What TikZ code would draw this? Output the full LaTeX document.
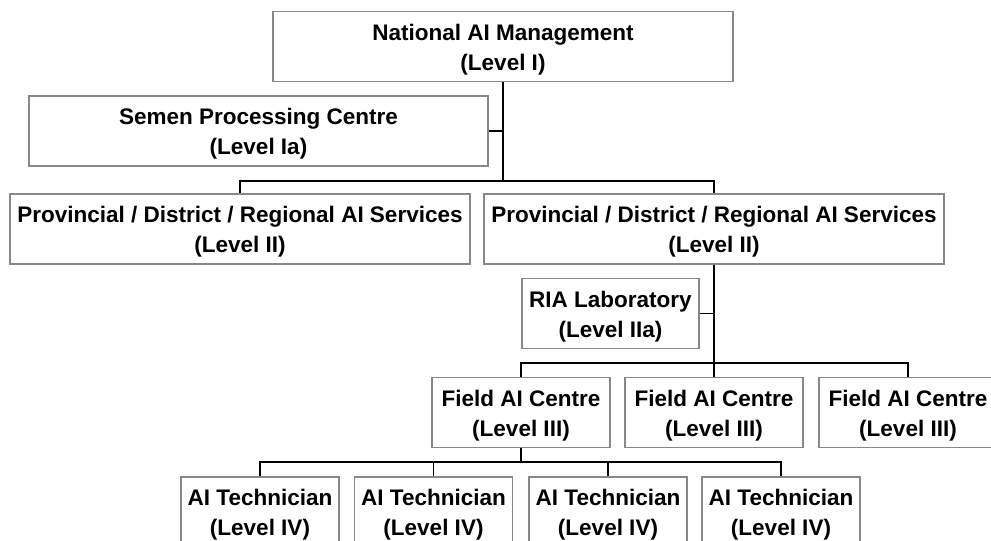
\documentclass[tikz,border=0pt]{standalone}
\usepackage{fontspec}
\setmainfont{Liberation Sans}
\definecolor{boxgray}{RGB}{136,136,136}
\newcommand\twolines[2]{\rule{0pt}{22pt}#1\\#2}
\begin{document}
\begin{tikzpicture}[x=1pt,y=-1pt,
  box/.style={draw=boxgray, line width=1.3pt, fill=white, align=center,
    font=\fontsize{22.5}{30}\selectfont\bfseries, inner sep=0pt},
  wide/.style={box, minimum width=460pt, minimum height=70pt},
  mid/.style={box, minimum width=178pt, minimum height=70pt},
  small/.style={box, minimum width=158pt, minimum height=70pt},
  conn/.style={draw=black, line width=1.3pt}]
\useasboundingbox (0,0) rectangle (991,541);
\node[wide] (nat) at (503,46.5) {\twolines{National AI Management}{(Level I)}};
\node[wide, minimum width=459pt] (semen) at (258.5,131) {\twolines{Semen Processing Centre}{(Level Ia)}};
\node[wide] (prov1) at (240,229) {\twolines{Provincial / District / Regional AI Services}{(Level II)}};
\node[wide] (prov2) at (714,229) {\twolines{Provincial / District / Regional AI Services}{(Level II)}};
\node[mid, minimum width=177pt] (ria) at (610.5,313.5) {\twolines{RIA Laboratory}{(Level IIa)}};
\node[mid] (f1) at (521,412.5) {\twolines{Field AI Centre}{(Level III)}};
\node[mid] (f2) at (714,412.5) {\twolines{Field AI Centre}{(Level III)}};
\node[mid] (f3) at (908,412.5) {\twolines{Field AI Centre}{(Level III)}};
\node[small] (t1) at (260,512) {\twolines{AI Technician}{(Level IV)}};
\node[small] (t2) at (433.5,512) {\twolines{AI Technician}{(Level IV)}};
\node[small] (t3) at (608,512) {\twolines{AI Technician}{(Level IV)}};
\node[small] (t4) at (781,512) {\twolines{AI Technician}{(Level IV)}};
\coordinate (busA) at (503,181);
\coordinate (busB) at (714,363);
\coordinate (busC) at (521,462);
\draw[conn] (nat.south) -- (busA);
\draw[conn] (semen.east) -- (semen.east -| nat.south);
\draw[conn] (prov1.north) |- (busA) -| (prov2.north);
\draw[conn] (prov2.south) -- (busB);
\draw[conn] (ria.east) -- (ria.east -| prov2.south);
\draw[conn] (f1.north) |- (busB) -| (f3.north);
\draw[conn] (busB) -- (f2.north);
\draw[conn] (f1.south) -- (busC);
\draw[conn] (t1.north) |- (busC) -| (t4.north);
\draw[conn] (t2.north) -- (t2.north |- busC);
\draw[conn] (t3.north) -- (t3.north |- busC);
\end{tikzpicture}
\end{document}
